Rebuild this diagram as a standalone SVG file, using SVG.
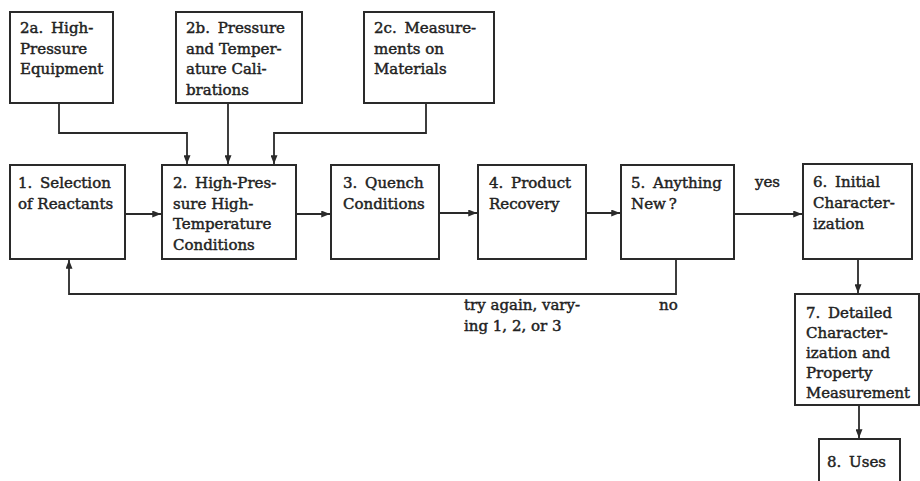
<svg xmlns="http://www.w3.org/2000/svg" width="920" height="481" viewBox="0 0 920 481">
  <defs>
    <marker id="arrow" viewBox="0 0 10 8" refX="10" refY="4" markerWidth="9" markerHeight="7" markerUnits="userSpaceOnUse" orient="auto">
      <path d="M0,0 L10,4 L0,8 Z" fill="#2a2a2a"/>
    </marker>
  </defs>
  <style>
    .box { fill: #ffffff; stroke: #2a2a2a; stroke-width: 2; }
    .link { fill: none; stroke: #2a2a2a; stroke-width: 1.8; }
    text { font-family: "DejaVu Serif", "Liberation Serif", serif; font-size: 15px; fill: #222222; stroke: #222222; stroke-width: 0.45; }
  </style>
  <rect width="920" height="481" fill="#ffffff"/>

  <!-- connectors -->
  <g id="connectors">
    <polyline class="link" points="59,103 59,133 187,133 187,164" marker-end="url(#arrow)"/>
    <line class="link" x1="228" y1="103" x2="228" y2="164" marker-end="url(#arrow)"/>
    <polyline class="link" points="426,103 426,133 274,133 274,164" marker-end="url(#arrow)"/>
    <line class="link" x1="125" y1="214" x2="161" y2="214" marker-end="url(#arrow)"/>
    <line class="link" x1="296" y1="214" x2="330" y2="214" marker-end="url(#arrow)"/>
    <line class="link" x1="439" y1="213" x2="477" y2="213" marker-end="url(#arrow)"/>
    <line class="link" x1="586" y1="213" x2="620" y2="213" marker-end="url(#arrow)"/>
    <line class="link" x1="734" y1="214" x2="802" y2="214" marker-end="url(#arrow)"/>
    <polyline class="link" points="676,259 676,294 69,294 69,260" marker-end="url(#arrow)"/>
    <line class="link" x1="858" y1="259" x2="858" y2="293" marker-end="url(#arrow)"/>
    <line class="link" x1="859" y1="405" x2="859" y2="438" marker-end="url(#arrow)"/>
    <text x="755" y="187">yes</text>
    <text x="464" y="310">try again, vary-</text>
    <text x="464" y="331">ing 1, 2, or 3</text>
    <text x="659" y="310">no</text>
  </g>

  <g id="node-2a">
    <rect class="box" x="10" y="12" width="103" height="91"/>
    <text x="20" y="33">2a.<tspan dx="3"> High-</tspan></text>
    <text x="20" y="54">Pressure</text>
    <text x="20" y="74">Equipment</text>
  </g>
  <g id="node-2b">
    <rect class="box" x="176" y="12" width="126" height="91"/>
    <text x="186" y="33">2b.<tspan dx="3"> Pressure</tspan></text>
    <text x="186" y="54">and Temper-</text>
    <text x="186" y="74">ature Cali-</text>
    <text x="186" y="95">brations</text>
  </g>
  <g id="node-2c">
    <rect class="box" x="364" y="12" width="130" height="91"/>
    <text x="374" y="33">2c.<tspan dx="3"> Measure-</tspan></text>
    <text x="374" y="54">ments on</text>
    <text x="374" y="74">Materials</text>
  </g>

  <g id="node-1">
    <rect class="box" x="10" y="165" width="115" height="94"/>
    <text x="18" y="188">1.<tspan dx="3"> Selection</tspan></text>
    <text x="18" y="209">of Reactants</text>
  </g>
  <g id="node-2">
    <rect class="box" x="162" y="165" width="134" height="94"/>
    <text x="173" y="188">2.<tspan dx="3"> High-Pres-</tspan></text>
    <text x="173" y="209">sure High-</text>
    <text x="173" y="229">Temperature</text>
    <text x="173" y="250">Conditions</text>
  </g>
  <g id="node-3">
    <rect class="box" x="331" y="165" width="108" height="94"/>
    <text x="343" y="188">3.<tspan dx="3"> Quench</tspan></text>
    <text x="343" y="209">Conditions</text>
  </g>
  <g id="node-4">
    <rect class="box" x="478" y="165" width="108" height="94"/>
    <text x="489" y="188">4.<tspan dx="3"> Product</tspan></text>
    <text x="489" y="209">Recovery</text>
  </g>
  <g id="node-5">
    <rect class="box" x="621" y="165" width="113" height="94"/>
    <text x="631" y="188">5.<tspan dx="3"> Anything</tspan></text>
    <text x="631" y="209">New<tspan dx="3">?</tspan></text>
  </g>
  <g id="node-6">
    <rect class="box" x="803" y="164" width="109" height="95"/>
    <text x="813" y="187">6.<tspan dx="3"> Initial</tspan></text>
    <text x="813" y="208">Character-</text>
    <text x="813" y="229">ization</text>
  </g>
  <g id="node-7">
    <rect class="box" x="795" y="294" width="124" height="111"/>
    <text x="806" y="318">7.<tspan dx="3"> Detailed</tspan></text>
    <text x="806" y="338">Character-</text>
    <text x="806" y="358">ization and</text>
    <text x="806" y="378">Property</text>
    <text x="806" y="398" textLength="104" lengthAdjust="spacingAndGlyphs">Measurement</text>
  </g>
  <g id="node-8">
    <path class="box" d="M819,490 L819,439 L900,439 L900,490"/>
    <text x="827" y="467">8.<tspan dx="3"> Uses</tspan></text>
  </g>
</svg>
